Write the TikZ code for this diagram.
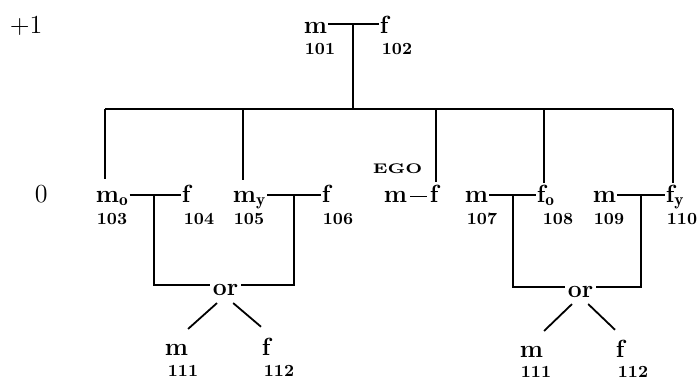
\documentclass[tikz,border=0pt]{standalone}
\usepackage{fontspec}
\usepackage{graphicx}
\begin{document}
\begin{tikzpicture}[x=0.5pt,y=-0.5pt,line width=0.9pt,
  lbl/.style={inner sep=0,anchor=base west,font=\fontsize{12.4}{14}\selectfont\bfseries},
  num/.style={inner sep=0,anchor=base west,font=\fontsize{8.5}{10}\selectfont\bfseries},
  gen/.style={inner sep=0,anchor=base west,font=\fontsize{13}{15}\selectfont},
  egol/.style={inner sep=0,anchor=base west,font=\fontsize{7}{8}\selectfont\bfseries}]
\useasboundingbox (0,0) rectangle (699,381);

% generation labels
\node[gen] (g1) at (9,33) {+1};
\node[gen] (g0) at (34,202) {0};

% parents
\node[lbl] (m101) at (303,33) {m};
\node[num] (n101) at (304,54) {101};
\node[lbl] (f102) at (379,33) {f};
\node[num] (n102) at (381,54) {102};
\coordinate (j12) at (353,24);
\coordinate (b12) at (353,109);
\draw (m101.east |- j12) -- (f102.west |- j12);
\draw (j12) -- (b12);

% sibling bus
\coordinate (busL) at (105,109);
\coordinate (busR) at (673,109);
\draw (busL) -- (busR);
\coordinate (t103) at (105,179);
\coordinate (s105) at (243,109);
\coordinate (t105) at (243,180);
\coordinate (s111) at (436,109);
\coordinate (t111) at (436,182);
\coordinate (s108) at (544,109);
\coordinate (t108) at (544,183);
\coordinate (t110) at (673,183);
\draw (busL) -- (t103);
\draw (s105) -- (t105);
\draw (s111) -- (t111);
\draw (s108) -- (t108);
\draw (busR) -- (t110);

% generation 0
\node[lbl] (m103) at (95,202) {m$_{\mathbf{o}}$};
\node[num] (n103) at (96,224) {103};
\node[lbl] (f104) at (181,202) {f};
\node[num] (n104) at (183,224) {104};
\node[lbl] (m105) at (232,202) {m$_{\mathbf{y}}$};
\node[num] (n105) at (233,224) {105};
\node[lbl] (f106) at (321,202) {f};
\node[num] (n106) at (322,224) {106};

\node[egol] (ego) at (372,173) {\scalebox{1.25}[1]{EGO}};
\node[lbl] (egom) at (383,202) {m};
\node[lbl] (egof) at (429,202) {f};
\draw ([xshift=1]egom.east) -- ([xshift=-1]egof.west |- egom.east);

\node[lbl] (m107) at (464,202) {m};
\node[num] (n107) at (466,224) {107};
\node[lbl] (f108) at (536,202) {f$_{\mathbf{o}}$};
\node[num] (n108) at (542,224) {108};
\node[lbl] (m109) at (592,202) {m};
\node[num] (n109) at (593,224) {109};
\node[lbl] (f110) at (665,202) {f$_{\mathbf{y}}$};
\node[num] (n110) at (666,224) {110};

\coordinate (j34) at (154,195);
\coordinate (j56) at (294,195);
\coordinate (j78) at (513,195);
\coordinate (j910) at (641,195);
\draw (m103.east |- j34) -- (f104.west |- j34);
\draw (m105.east |- j56) -- (f106.west |- j56);
\draw (m107.east |- j78) -- (f108.west |- j78);
\draw (m109.east |- j910) -- (f110.west |- j910);

% children, left
\node[lbl] (or1) at (212,295) {or};
\coordinate (bl1) at (154,285);
\coordinate (br1) at (294,285);
\draw (j34) -- (bl1) -- ([xshift=-1]bl1 -| or1.west);
\draw (j56) -- (br1) -- ([xshift=1]br1 -| or1.east);
\node[lbl] (m111) at (164,355) {m};
\node[num] (n111) at (167,376) {111};
\node[lbl] (f112) at (261,355) {f};
\node[num] (n112) at (263,376) {112};
\draw ([shift={(5,7)}]or1.south west) -- ([shift={(-1,-14)}]m111.north east);
\draw ([shift={(-6,7)}]or1.south east) -- ([shift={(0,-10)}]f112.north west);

% children, right
\node[lbl] (or2) at (567,297) {or};
\coordinate (bl2) at (513,287);
\coordinate (br2) at (641,287);
\draw (j78) -- (bl2) -- ([xshift=-1]bl2 -| or2.west);
\draw (j910) -- (br2) -- ([xshift=1]br2 -| or2.east);
\node[lbl] (m111b) at (519,357) {m};
\node[num] (n111b) at (520,377) {111};
\node[lbl] (f112b) at (615,357) {f};
\node[num] (n112b) at (617,377) {112};
\draw ([shift={(5,6)}]or2.south west) -- ([shift={(0,-14)}]m111b.north east);
\draw ([shift={(-6,6)}]or2.south east) -- ([shift={(0,-9)}]f112b.north west);
\end{tikzpicture}
\end{document}
